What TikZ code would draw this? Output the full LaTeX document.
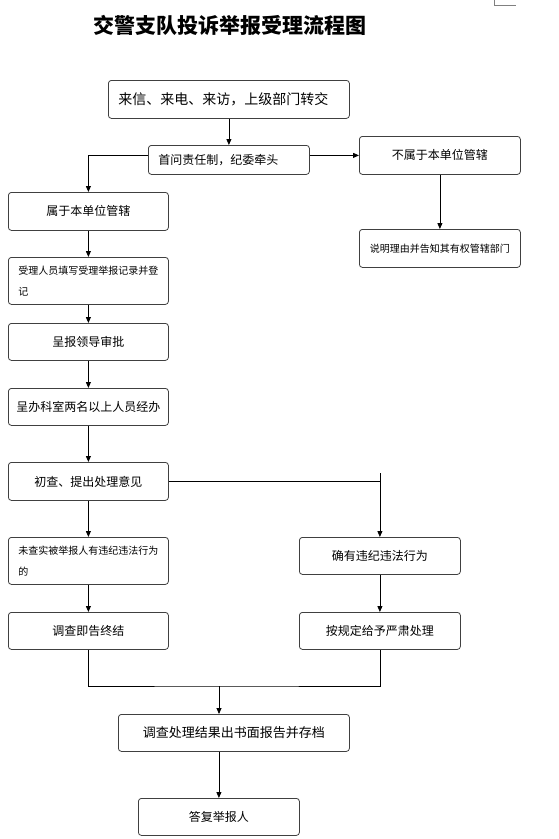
\documentclass[tikz,border=0pt]{standalone}
\usepackage{fontspec}
\setmainfont{Noto Sans CJK SC}
\usetikzlibrary{arrows.meta}

\tikzset{
  box/.style={draw=black!75, line width=0.8pt, rounded corners=3pt, anchor=north west,
    inner sep=0pt, align=center, font=\fontsize{12}{14}\selectfont},
  lbox/.style={box, align=left, inner xsep=10pt},
  link/.style={draw=black, line width=0.8pt},
  arr/.style={link, -{Triangle[length=6pt,width=5pt]}}
}

\begin{document}
\begin{tikzpicture}[x=1pt, y=-1pt]
  \useasboundingbox (0,0) rectangle (559,839);

  % page corner mark
  \draw[gray, line width=0.6pt] (494,0) -- (494,5) -- (516,5);

  % title
  \node[font=\fontsize{21}{21}\selectfont\bfseries] (title) at (230,25) {交警支队投诉举报受理流程图};

  % top part
  \node[lbox, minimum width=241pt, minimum height=38pt, text width=221pt, font=\fontsize{14}{16}\selectfont] (b1) at (108,80) {来信、来电、来访，上级部门转交};
  \node[lbox, minimum width=161pt, minimum height=29pt, text width=141pt] (b2) at (148,145) {首问责任制，纪委牵头};
  \node[box, minimum width=161pt, minimum height=38pt] (b3) at (359,136) {不属于本单位管辖};
  \node[box, minimum width=161pt, minimum height=38pt, font=\fontsize{10}{12}\selectfont] (b5) at (359,229) {说明理由并告知其有权管辖部门};

  % left column
  \node[box, minimum width=160pt, minimum height=38pt] (b4) at (8,192) {属于本单位管辖};
  \node[lbox, minimum width=160pt, minimum height=47pt, text width=140pt, font=\fontsize{10}{21}\selectfont] (b6) at (8,257) {受理人员填写受理举报记录并登\\记};
  \node[box, minimum width=160pt, minimum height=37pt] (b7) at (8,323) {呈报领导审批};
  \node[box, minimum width=160pt, minimum height=37pt] (b8) at (8,388) {呈办科室两名以上人员经办};
  \node[box, minimum width=160pt, minimum height=38pt] (b9) at (8,462) {初查、提出处理意见};
  \node[lbox, minimum width=160pt, minimum height=47pt, text width=140pt, font=\fontsize{10}{21}\selectfont] (b10) at (8,537) {未查实被举报人有违纪违法行为\\的};
  \node[box, minimum width=160pt, minimum height=37pt] (b12) at (8,612) {调查即告终结};

  % right column
  \node[box, minimum width=161pt, minimum height=37pt] (b11) at (299,537) {确有违纪违法行为};
  \node[box, minimum width=161pt, minimum height=37pt] (b13) at (299,612) {按规定给予严肃处理};

  % bottom
  \node[box, minimum width=231pt, minimum height=37pt, font=\fontsize{13}{15}\selectfont] (b14) at (118,714) {调查处理结果出书面报告并存档};
  \node[box, minimum width=161pt, minimum height=37pt] (b15) at (138,798) {答复举报人};

  % connectors
  \draw[arr] (b1.south) -- (b2.north);
  \draw[arr] (b2.west |- b3.west) -| (b4.north);
  \draw[arr] (b2.east |- b3.west) -- (b3.west);
  \draw[arr] (b3.south) -- (b5.north);
  \draw[arr] (b4.south) -- (b6.north);
  \draw[arr] (b6.south) -- (b7.north);
  \draw[arr] (b7.south) -- (b8.north);
  \draw[arr] (b8.south) -- (b9.north);
  \draw[arr] (b9.east) -| (b11.north);
  \draw[link] (b9.east -| b11.north) -- ++(0,-8);
  \draw[arr] (b9.south) -- (b10.north);
  \draw[arr] (b10.south) -- (b12.north);
  \draw[arr] (b11.south) -- (b13.north);

  \coordinate (merge) at (219,686);
  \draw[link] (b12.south) |- (merge) -| (b13.south);
  \draw[arr] (merge) -- (merge |- b14.north);
  \draw[arr] (b15.north |- b14.south) -- (b15.north);
\end{tikzpicture}
\end{document}
